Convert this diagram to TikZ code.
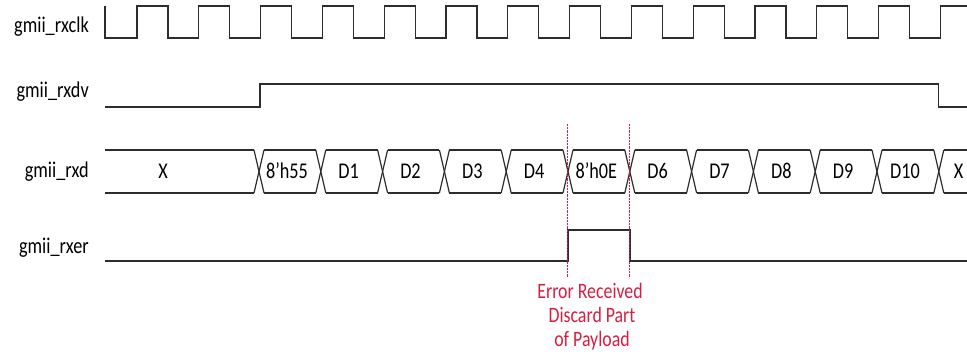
\documentclass[tikz,border=0pt]{standalone}
\usepackage{fontspec}
\setmainfont{Carlito}[FakeStretch=0.81]
\definecolor{wire}{RGB}{45,45,45}
\definecolor{errred}{RGB}{214,30,66}
\tikzset{
  sig/.style={draw=wire, line width=1.2pt, line join=miter},
  siglabel/.style={anchor=base east, inner sep=0pt, font=\fontsize{22.5}{26}\selectfont, text=black},
  buslabel/.style={anchor=center, inner sep=0pt, font=\fontsize{22.5}{26}\selectfont, text=black},
  marker/.style={draw=errred, line width=1.8pt, dash pattern=on 2.2pt off 1pt},
  note/.style={text=errred, anchor=base, inner sep=0pt, font=\fontsize{22}{26}\selectfont}
}
\begin{document}
\begin{tikzpicture}[x=1pt,y=-1pt]
\useasboundingbox (0,0) rectangle (967,355);
% labels
\node[siglabel] (lclk) at (89,33) {gmii\_rxclk};
\node[siglabel] (ldv)  at (89,98) {gmii\_rxdv};
\node[siglabel] (ld)   at (89,178) {gmii\_rxd};
\node[siglabel] (ler)  at (89,254) {gmii\_rxer};
% clock
\draw[sig] (105,6) -- (105,38)
  foreach \k in {0,...,12} { -- ({137+61.8*\k},38) -- ({137+61.8*\k},6) -- ({167.9+61.8*\k},6) -- ({167.9+61.8*\k},38) }
  -- (940.4,38) -- (940.4,6) -- (967,6);
% rxdv
\draw[sig] (105,107) -- (260,107) -- (260,84) -- (938.5,84) -- (938.5,107) -- (967,107);
% rxd bus
\draw[sig] (105,150) -- (254,150);
\draw[sig] (105,193) -- (254,193);
\foreach \k in {0,...,11} {
  \pgfmathsetmacro{\c}{259+61.8*\k}
  \draw[sig] ({\c-5},150) -- ({\c+5},193);
  \draw[sig] ({\c-5},193) -- ({\c+5},150);
}
\foreach \k in {0,...,10} {
  \pgfmathsetmacro{\c}{259+61.8*\k}
  \draw[sig] ({\c+5},150) -- ({\c+61.8-5},150);
  \draw[sig] ({\c+5},193) -- ({\c+61.8-5},193);
}
\draw[sig] (943.8,150) -- (967,150);
\draw[sig] (943.8,193) -- (967,193);
\node[buslabel] (bx)  at (163,171) {X};
\node[buslabel] (b0)  at (287,171) {8’h55};
\node[buslabel] (b1)  at (348.7,171) {D1};
\node[buslabel] (b2)  at (410.5,171) {D2};
\node[buslabel] (b3)  at (472.3,171) {D3};
\node[buslabel] (b4)  at (534.1,171) {D4};
\node[buslabel] (b5)  at (596.3,171) {8’h0E};
\node[buslabel] (b6)  at (657.7,171) {D6};
\node[buslabel] (b7)  at (719.5,171) {D7};
\node[buslabel] (b8)  at (781.3,171) {D8};
\node[buslabel] (b9)  at (843.1,171) {D9};
\node[buslabel] (b10) at (904.9,171) {D10};
\node[buslabel] (bx2) at (958.5,171) {X};
% rxer
\draw[sig] (105,261) -- (568,261) -- (568,230) -- (630,230) -- (630,261) -- (967,261);
% error markers
\coordinate (m1t) at (567.5,124);
\coordinate (m1b) at (567.5,277);
\coordinate (m2t) at (629.5,124);
\coordinate (m2b) at (629.5,277);
\draw[marker] (m1t) -- (m1b);
\draw[marker] (m2t) -- (m2b);
\node[note] (err1) at (590,299) {Error Received};
\node[note] (err2) at (592,323) {Discard Part};
\node[note] (err3) at (592,347) {of Payload};
\end{tikzpicture}
\end{document}
